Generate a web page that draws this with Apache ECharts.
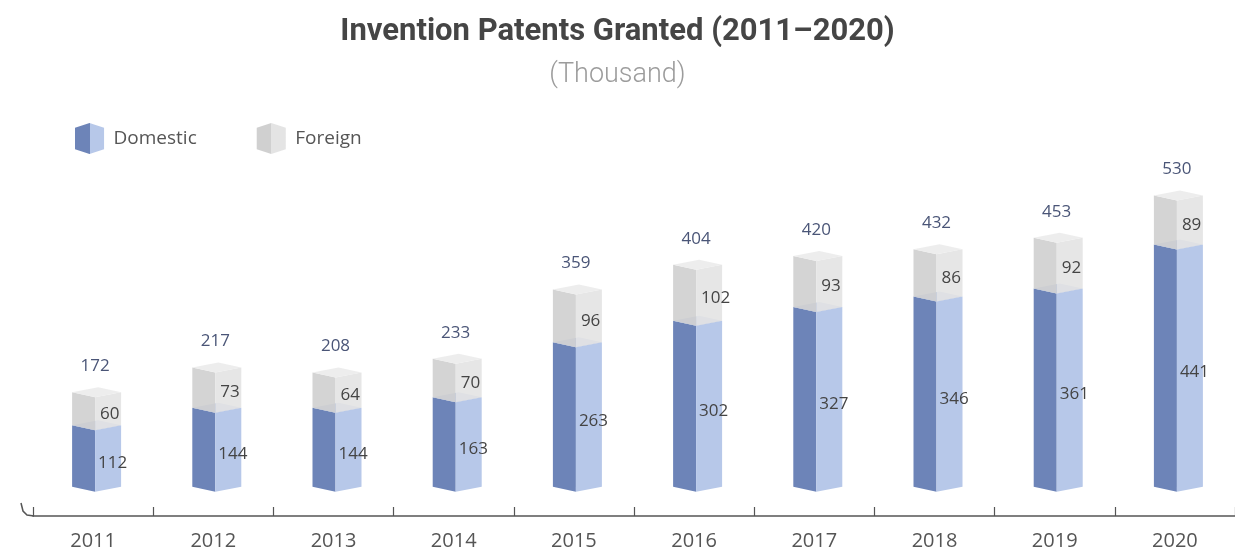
<!DOCTYPE html>
<html>
<head>
<meta charset="utf-8">
<script src="https://cdn.jsdelivr.net/npm/echarts@6/dist/echarts.min.js"></script>
<style>
html,body{margin:0;padding:0;background:#fff;}
#chart{width:1235px;height:551px;}
</style>
</head>
<body>
<div id="chart"></div>
<script>
const years = ['2011','2012','2013','2014','2015','2016','2017','2018','2019','2020'];
const domestic = [112,144,144,163,263,302,327,346,361,441];
const foreign = [60,73,64,70,96,102,93,86,92,89];
const totals = [172,217,208,233,359,404,420,432,453,530];

const DOM = {left:'#6d84b8', right:'#b7c8e9', cap:'#9fb3dd'};
const FOR = {left:'#d0d0d0', right:'#e4e4e4', cap:'#ececec'};
const FONT = '"Open Sans", Lato, sans-serif';

function split(c1, c2){
  return {type:'linear', x:0, y:0, x2:1, y2:0, colorStops:[
    {offset:0,color:c1},{offset:0.5,color:c1},{offset:0.5,color:c2},{offset:1,color:c2}]};
}

function prism(api, idx, v0, v1, col, opacity){
  const b = api.coord([idx, v0]);
  const t = api.coord([idx, v1]);
  const e = b[0] + 2, yB = b[1], yT = t[1];
  const wl = 23, wr = 26, sl = 5, sr = 5;
  const st = {opacity: opacity};
  return [
    {type:'polygon', shape:{points:[[e-wl,yT-sl],[e,yT],[e,yB],[e-wl,yB-sl]]}, style:Object.assign({fill:col.left}, st)},
    {type:'polygon', shape:{points:[[e,yT],[e+wr,yT-sr],[e+wr,yB-sr],[e,yB]]}, style:Object.assign({fill:col.right}, st)},
    {type:'polygon', shape:{points:[[e,yT],[e-wl,yT-sl],[e-wl+wr,yT-sl-sr],[e+wr,yT-sr]]}, style:Object.assign({fill:col.cap}, st)}
  ];
}

const chart = echarts.init(document.getElementById('chart'), null, {renderer:'canvas'});
chart.setOption({
  backgroundColor:'#ffffff',
  animation:false,
  title:{
    text:'Invention Patents Granted (2011\u20132020)',
    subtext:'(Thousand)',
    left:'center', top:12, itemGap:14,
    textStyle:{fontFamily:'Roboto, sans-serif', fontSize:31, fontWeight:'bold', color:'#454545'},
    subtextStyle:{fontFamily:'Roboto, sans-serif', fontSize:27, fontWeight:300, color:'#9c9c9c'}
  },
  legend:{
    left:70, top:118, itemWidth:30, itemHeight:31, itemGap:60,
    icon:'path://M0,5 L15,0 L30,5 L30,27 L15,32 L0,27 Z',
    textStyle:{fontFamily:FONT, fontSize:19, color:'#555', padding:[0,0,0,4]},
    data:[
      {name:'Domestic', itemStyle:{color:split(DOM.left, DOM.right)}},
      {name:'Foreign', itemStyle:{color:split(FOR.left, FOR.right)}}
    ]
  },
  grid:{left:33, right:-2, top:162, bottom:35},
  xAxis:{
    type:'category', data:years, boundaryGap:true,
    axisLine:{onZero:false, lineStyle:{color:'#555', width:1.5}},
    axisTick:{show:true, inside:true, length:9, lineStyle:{color:'#555', width:1.2}},
    axisLabel:{fontFamily:FONT, fontSize:20, color:'#555', margin:15}
  },
  yAxis:{type:'value', min:-44, max:600, show:false, splitLine:{show:false}},
  graphic:[{type:'polyline', shape:{points:[[21,503],[23,511],[27,515],[34,516]]}, style:{stroke:'#555', lineWidth:1.5, fill:null}}],
  series:[
    {
      name:'Domestic', type:'custom', clip:false,
      itemStyle:{color:split(DOM.left, DOM.right)},
      encode:{x:0, y:[1,2]},
      data: years.map((y,i)=>[i, 0, domestic[i]]),
      renderItem:function(params, api){
        const i = api.value(0);
        const v0 = api.value(1), v1 = api.value(2);
        const children = prism(api, i, v0, v1, DOM, 1);
        const b = api.coord([i, v0]), t = api.coord([i, v1]);
        children.push({type:'text', style:{text:String(domestic[i]), x:b[0]+5, y:(b[1]+t[1])/2+2, align:'left', verticalAlign:'middle', fontFamily:FONT, fontSize:17, fill:'#444'}});
        return {type:'group', children:children};
      }
    },
    {
      name:'Foreign', type:'custom', clip:false,
      itemStyle:{color:split(FOR.left, FOR.right)},
      encode:{x:0, y:[1,2]},
      data: years.map((y,i)=>[i, domestic[i], domestic[i]+foreign[i]]),
      renderItem:function(params, api){
        const i = api.value(0);
        const v0 = api.value(1), v1 = api.value(2);
        const children = prism(api, i, v0, v1, FOR, 0.92);
        const b = api.coord([i, v0]), t = api.coord([i, v1]);
        children.push({type:'text', style:{text:String(foreign[i]), x:b[0]+7, y:(b[1]+t[1])/2, align:'left', verticalAlign:'middle', fontFamily:FONT, fontSize:17, fill:'#444'}});
        const tt = api.coord([i, totals[i]]);
        children.push({type:'text', style:{text:String(totals[i]), x:tt[0]+2, y:tt[1]-31, align:'center', verticalAlign:'middle', fontFamily:FONT, fontSize:17, fill:'#4a5577'}});
        return {type:'group', children:children};
      }
    }
  ]
});
</script>
</body>
</html>
